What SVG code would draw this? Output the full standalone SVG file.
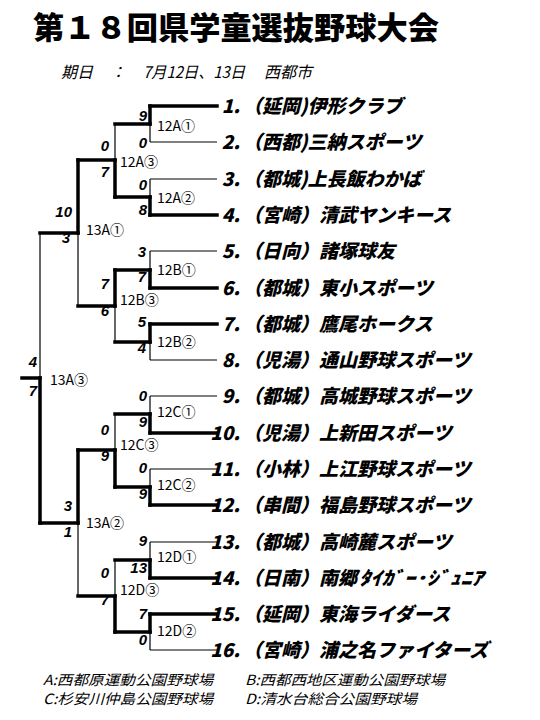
<svg xmlns="http://www.w3.org/2000/svg" width="540" height="720" viewBox="0 0 540 720">
<style>
.bg{fill:#fff}
.tk{stroke:#000;stroke-width:3.5;fill:none;stroke-linecap:square}
.tn{stroke:#000;stroke-width:1.2;fill:none}
.title{font-family:"Noto Sans CJK JP","Noto Sans",sans-serif;font-weight:900;font-size:31px;fill:#000}
.sub{font-family:"Noto Sans CJK JP","Noto Sans",sans-serif;font-style:italic;font-size:16px;fill:#000}
.num{font-family:"Noto Sans CJK JP","Noto Sans",sans-serif;font-weight:900;font-style:italic;font-size:19px;fill:#000;text-anchor:end}
.team{font-family:"Noto Sans CJK JP","Noto Sans",sans-serif;font-weight:900;font-style:italic;font-size:19px;fill:#000}
.sc{font-family:"Liberation Sans","Noto Sans",sans-serif;font-weight:bold;font-style:italic;font-size:15px;fill:#000;text-anchor:end}
.ml{font-family:"Noto Sans CJK JP","Noto Sans",sans-serif;font-size:14px;fill:#000}
.ft{font-family:"Noto Sans CJK JP","Noto Sans",sans-serif;font-style:italic;font-size:14px;fill:#000}
</style>
<rect class="bg" width="540" height="720"/>
<g id="title"><text class="title" x="33" y="39" textLength="406" lengthAdjust="spacingAndGlyphs">第１８回県学童選抜野球大会</text></g>
<g id="subtitle">
<text class="sub" x="61" y="78">期日</text>
<text class="sub" x="110" y="78">：</text>
<text class="sub" x="143" y="78" textLength="102" lengthAdjust="spacingAndGlyphs">7月12日、13日</text>
<text class="sub" x="264" y="78">西都市</text>
</g>
<g id="connectors">
<path class="tk" d="M150 106H217"/>
<path class="tn" d="M150 142H217"/>
<path class="tn" d="M150 179H217"/>
<path class="tk" d="M150 215H217"/>
<path class="tn" d="M150 251H217"/>
<path class="tk" d="M150 288H217"/>
<path class="tk" d="M150 324H217"/>
<path class="tn" d="M150 360H217"/>
<path class="tn" d="M150 396H217"/>
<path class="tk" d="M150 433H217"/>
<path class="tn" d="M150 469H217"/>
<path class="tk" d="M150 505H217"/>
<path class="tn" d="M150 542H217"/>
<path class="tk" d="M150 578H217"/>
<path class="tk" d="M150 614H217"/>
<path class="tn" d="M150 650H217"/>
<path class="tk" d="M150 106V124"/><path class="tn" d="M150 124V142"/>
<path class="tn" d="M150 179V197"/><path class="tk" d="M150 197V215"/>
<path class="tn" d="M150 251V270"/><path class="tk" d="M150 270V288"/>
<path class="tk" d="M150 324V342"/><path class="tn" d="M150 342V360"/>
<path class="tn" d="M150 396V414"/><path class="tk" d="M150 414V433"/>
<path class="tn" d="M150 469V487"/><path class="tk" d="M150 487V505"/>
<path class="tn" d="M150 542V560"/><path class="tk" d="M150 560V578"/>
<path class="tk" d="M150 614V632"/><path class="tn" d="M150 632V650"/>
<path class="tk" d="M115 124H150"/>
<path class="tk" d="M115 197H150"/>
<path class="tk" d="M115 270H150"/>
<path class="tk" d="M115 342H150"/>
<path class="tk" d="M115 414H150"/>
<path class="tk" d="M115 487H150"/>
<path class="tk" d="M115 560H150"/>
<path class="tk" d="M115 632H150"/>
<path class="tn" d="M115 124V160"/><path class="tk" d="M115 160V197"/>
<path class="tk" d="M115 270V306"/><path class="tn" d="M115 306V342"/>
<path class="tn" d="M115 414V450"/><path class="tk" d="M115 450V487"/>
<path class="tn" d="M115 560V596"/><path class="tk" d="M115 596V632"/>
<path class="tk" d="M78 160H115"/>
<path class="tk" d="M78 306H115"/>
<path class="tk" d="M78 450H115"/>
<path class="tk" d="M78 596H115"/>
<path class="tk" d="M78 160V233"/><path class="tn" d="M78 233V306"/>
<path class="tk" d="M78 450V523"/><path class="tn" d="M78 523V596"/>
<path class="tk" d="M40 233H78"/>
<path class="tk" d="M40 523H78"/>
<path class="tn" d="M40 233V378"/><path class="tk" d="M40 378V523"/>
<path class="tk" d="M22 378H40"/>
</g>
<g id="scores">
<text class="sc" x="147" y="121">9</text><text class="sc" x="147" y="148">0</text>
<text class="sc" x="109" y="151">0</text><text class="sc" x="109" y="177">7</text>
<text class="sc" x="147" y="190">0</text><text class="sc" x="147" y="215">8</text>
<text class="sc" x="72" y="217">10</text><text class="sc" x="70" y="243">3</text>
<text class="sc" x="146" y="257">3</text><text class="sc" x="146" y="282">7</text>
<text class="sc" x="109" y="289">7</text><text class="sc" x="109" y="316">6</text>
<text class="sc" x="146" y="327">5</text><text class="sc" x="146" y="353">4</text>
<text class="sc" x="37" y="367">4</text><text class="sc" x="37" y="396">7</text>
<text class="sc" x="147" y="401">0</text><text class="sc" x="147" y="427">9</text>
<text class="sc" x="109" y="435">0</text><text class="sc" x="109" y="461">9</text>
<text class="sc" x="147" y="473">0</text><text class="sc" x="147" y="499">9</text>
<text class="sc" x="72" y="511">3</text><text class="sc" x="72" y="537">1</text>
<text class="sc" x="147" y="546">9</text><text class="sc" x="147" y="573">13</text>
<text class="sc" x="109" y="578">0</text><text class="sc" x="109" y="605">7</text>
<text class="sc" x="147" y="619">7</text><text class="sc" x="147" y="645">0</text>
</g>
<g id="m12A1"><text class="ml" x="157" y="131">12A①</text></g>
<g id="m12A2"><text class="ml" x="157" y="203">12A②</text></g>
<g id="m12A3"><text class="ml" x="120" y="167">12A③</text></g>
<g id="m12B1"><text class="ml" x="157" y="275">12B①</text></g>
<g id="m12B2"><text class="ml" x="157" y="347">12B②</text></g>
<g id="m12B3"><text class="ml" x="120" y="305">12B③</text></g>
<g id="m12C1"><text class="ml" x="157" y="417">12C①</text></g>
<g id="m12C2"><text class="ml" x="157" y="490">12C②</text></g>
<g id="m12C3"><text class="ml" x="120" y="450">12C③</text></g>
<g id="m12D1"><text class="ml" x="157" y="562">12D①</text></g>
<g id="m12D2"><text class="ml" x="157" y="636">12D②</text></g>
<g id="m12D3"><text class="ml" x="120" y="595">12D③</text></g>
<g id="m13A1"><text class="ml" x="86" y="235">13A①</text></g>
<g id="m13A2"><text class="ml" x="86" y="528">13A②</text></g>
<g id="m13A3"><text class="ml" x="50" y="385">13A③</text></g>
<g id="team1"><text class="num" x="240" y="113">1.</text><text class="team" x="243" y="113">（延岡)伊形クラブ</text></g>
<g id="team2"><text class="num" x="240" y="149">2.</text><text class="team" x="243" y="149">（西都)三納スポーツ</text></g>
<g id="team3"><text class="num" x="240" y="186">3.</text><text class="team" x="243" y="186">（都城)上長飯わかば</text></g>
<g id="team4"><text class="num" x="240" y="222">4.</text><text class="team" x="243" y="222">（宮崎）清武ヤンキース</text></g>
<g id="team5"><text class="num" x="240" y="258">5.</text><text class="team" x="243" y="258">（日向）諸塚球友</text></g>
<g id="team6"><text class="num" x="240" y="295">6.</text><text class="team" x="243" y="295">（都城）東小スポーツ</text></g>
<g id="team7"><text class="num" x="240" y="331">7.</text><text class="team" x="243" y="331">（都城）鷹尾ホークス</text></g>
<g id="team8"><text class="num" x="240" y="367">8.</text><text class="team" x="243" y="367">（児湯）通山野球スポーツ</text></g>
<g id="team9"><text class="num" x="240" y="403">9.</text><text class="team" x="243" y="403">（都城）高城野球スポーツ</text></g>
<g id="team10"><text class="num" x="240" y="440">10.</text><text class="team" x="243" y="440">（児湯）上新田スポーツ</text></g>
<g id="team11"><text class="num" x="240" y="476">11.</text><text class="team" x="243" y="476">（小林）上江野球スポーツ</text></g>
<g id="team12"><text class="num" x="240" y="512">12.</text><text class="team" x="243" y="512">（串間）福島野球スポーツ</text></g>
<g id="team13"><text class="num" x="240" y="549">13.</text><text class="team" x="243" y="549">（都城）高崎麓スポーツ</text></g>
<g id="team14"><text class="num" x="240" y="585">14.</text><text class="team" x="243" y="585">（日南）南郷</text><text class="team" x="359" y="585" textLength="124" lengthAdjust="spacingAndGlyphs">ﾀｲｶﾞｰ･ｼﾞｭﾆｱ</text></g>
<g id="team15"><text class="num" x="240" y="621">15.</text><text class="team" x="243" y="621">（延岡）東海ライダース</text></g>
<g id="team16"><text class="num" x="240" y="657">16.</text><text class="team" x="243" y="657">（宮崎）浦之名ファイターズ</text></g>
<g id="legend">
<text class="ft" x="43" y="685" textLength="170" lengthAdjust="spacingAndGlyphs">A:西都原運動公園野球場</text>
<text class="ft" x="245" y="685" textLength="200" lengthAdjust="spacingAndGlyphs">B:西都西地区運動公園野球場</text>
<text class="ft" x="43" y="704" textLength="170" lengthAdjust="spacingAndGlyphs">C:杉安川仲島公園野球場</text>
<text class="ft" x="245" y="704" textLength="172" lengthAdjust="spacingAndGlyphs">D:清水台総合公園野球場</text>
</g>
</svg>
